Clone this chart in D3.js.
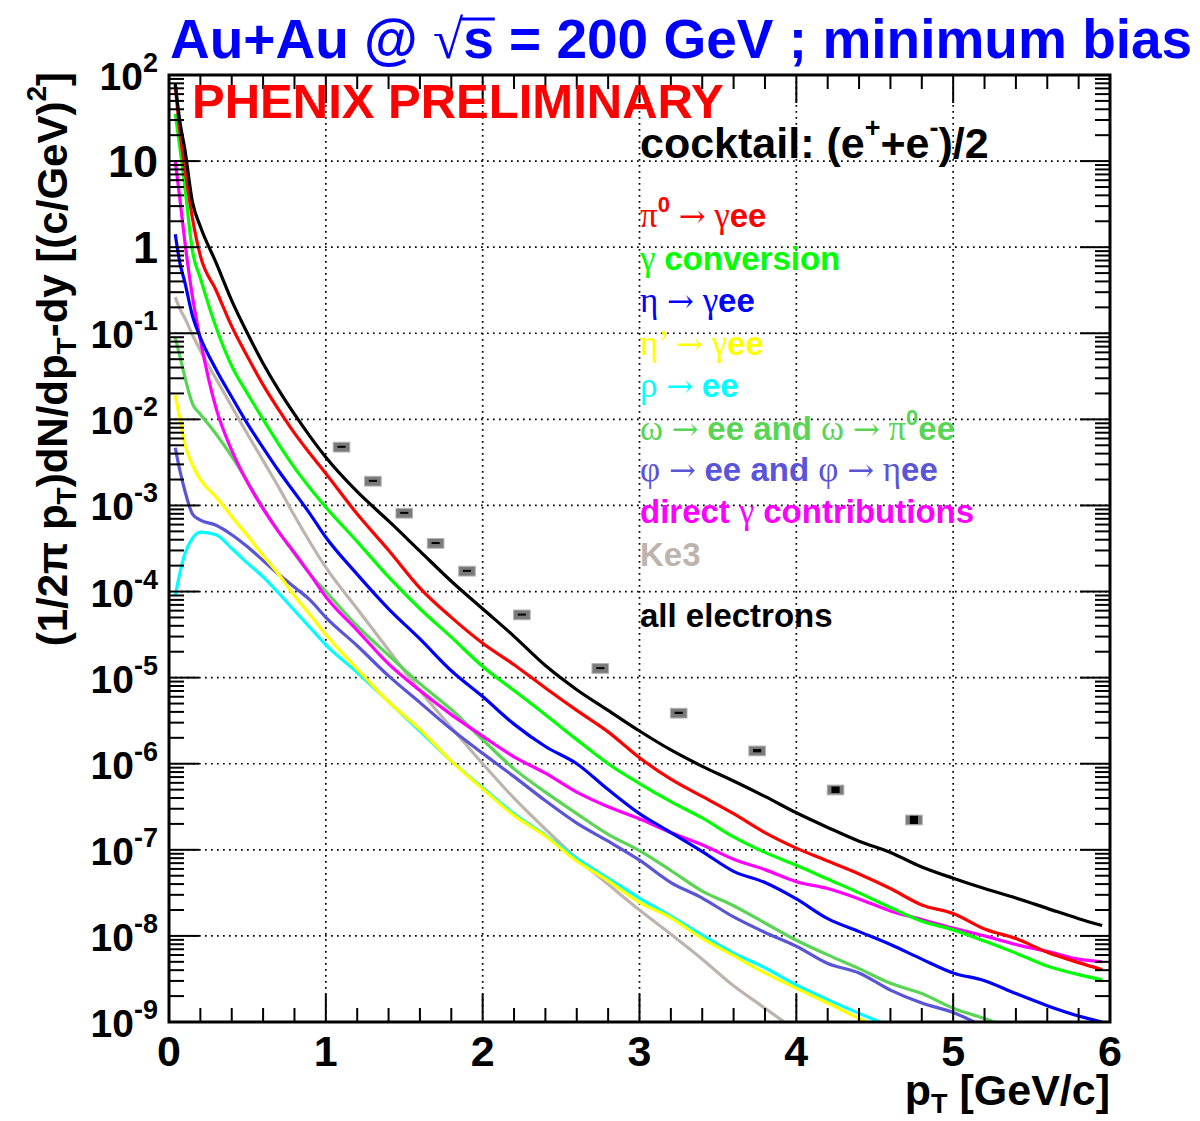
<!DOCTYPE html>
<html><head><meta charset="utf-8">
<script src="https://cdn.jsdelivr.net/npm/d3@7"></script>
<style>body{margin:0;background:#fff} svg{display:block}</style>
</head><body><svg id="c" width="1200" height="1121"></svg>
<script>
// ---------------- DATA (log10 of (1/2pi pT) dN/dpT dy) ----------------
const pT = [0.04,0.07,0.1,0.15,0.2,0.3,0.4,0.5,0.6,0.7,0.8,0.9,1.0,1.2,1.4,1.6,1.8,2.0,2.2,2.4,2.6,2.8,3.0,3.2,3.4,3.6,3.8,4.0,4.2,4.4,4.6,4.8,5.0,5.2,5.4,5.6,5.8,5.95];

const logAll    = [1.9,1.45,1.15,0.52,0.24,-0.18,-0.62,-1.0,-1.35,-1.66,-1.94,-2.2,-2.44,-2.84,-3.18,-3.53,-3.88,-4.2,-4.52,-4.86,-5.14,-5.38,-5.62,-5.84,-6.03,-6.2,-6.38,-6.57,-6.74,-6.9,-7.03,-7.2,-7.33,-7.45,-7.56,-7.68,-7.8,-7.88];
const logPi0    = [1.88,1.33,0.93,0.33,-0.1,-0.5,-0.92,-1.27,-1.6,-1.89,-2.16,-2.4,-2.63,-3.1,-3.52,-3.96,-4.3,-4.6,-4.85,-5.12,-5.38,-5.63,-5.93,-6.18,-6.38,-6.58,-6.8,-6.98,-7.13,-7.28,-7.45,-7.64,-7.74,-7.92,-8.03,-8.19,-8.31,-8.39];
const logConv   = [1.55,1.15,0.72,-0.05,-0.36,-0.93,-1.38,-1.7,-2.0,-2.29,-2.56,-2.8,-3.02,-3.42,-3.83,-4.2,-4.53,-4.87,-5.15,-5.43,-5.72,-6.0,-6.23,-6.44,-6.63,-6.85,-7.03,-7.18,-7.34,-7.5,-7.67,-7.83,-7.93,-8.06,-8.2,-8.35,-8.45,-8.51];
const logEta    = [0.15,-0.19,-0.4,-0.8,-1.05,-1.42,-1.74,-2.05,-2.33,-2.6,-2.85,-3.1,-3.37,-3.8,-4.2,-4.55,-4.92,-5.22,-5.54,-5.8,-6.0,-6.3,-6.58,-6.8,-7.02,-7.25,-7.38,-7.57,-7.8,-7.95,-8.1,-8.27,-8.43,-8.52,-8.67,-8.81,-8.93,-9.0];
const logEtaP   = [-1.72,-2.0,-2.28,-2.53,-2.7,-2.9,-3.13,-3.35,-3.58,-3.8,-4.05,-4.27,-4.5,-4.9,-5.28,-5.6,-5.97,-6.29,-6.6,-6.84,-7.13,-7.36,-7.61,-7.79,-8.03,-8.23,-8.43,-8.61,-8.78,-8.96,-9.12,null,null,null,null,null,null,null];
const logRho    = [-4.05,-3.78,-3.57,-3.38,-3.31,-3.34,-3.5,-3.67,-3.83,-4.02,-4.22,-4.42,-4.62,-4.94,-5.28,-5.62,-5.97,-6.28,-6.58,-6.83,-7.1,-7.33,-7.56,-7.77,-7.99,-8.2,-8.37,-8.57,-8.74,-8.9,-9.05,null,null,null,null,null,null,null];
const logOmega  = [-1.05,-1.27,-1.5,-1.82,-1.94,-2.17,-2.43,-2.72,-3.02,-3.3,-3.56,-3.8,-4.0,-4.4,-4.74,-5.07,-5.37,-5.72,-6.06,-6.33,-6.58,-6.82,-7.01,-7.24,-7.48,-7.65,-7.85,-8.05,-8.22,-8.38,-8.55,-8.67,-8.84,-8.96,-9.1,null,null,null];
const logPhi    = [-2.33,-2.6,-2.82,-3.1,-3.17,-3.23,-3.34,-3.48,-3.64,-3.8,-3.95,-4.1,-4.3,-4.63,-4.98,-5.29,-5.6,-5.88,-6.15,-6.43,-6.69,-6.9,-7.12,-7.38,-7.56,-7.78,-7.96,-8.12,-8.32,-8.43,-8.63,-8.78,-8.89,-9.06,null,null,null,null];
const logDirect = [1.0,0.55,0.08,-0.58,-1.08,-1.87,-2.36,-2.73,-3.04,-3.31,-3.55,-3.8,-4.06,-4.45,-4.84,-5.15,-5.43,-5.68,-5.92,-6.11,-6.33,-6.5,-6.64,-6.8,-6.94,-7.11,-7.23,-7.37,-7.45,-7.57,-7.71,-7.81,-7.91,-8.0,-8.1,-8.18,-8.27,-8.3];
const logKe3    = [-0.58,-0.72,-0.82,-1.02,-1.2,-1.53,-1.85,-2.17,-2.48,-2.79,-3.12,-3.43,-3.72,-4.2,-4.68,-5.15,-5.58,-6.0,-6.4,-6.76,-7.1,-7.4,-7.7,-7.98,-8.27,-8.58,-8.84,-9.1,null,null,null,null,null,null,null,null,null,null];

// PHENIX preliminary data points
const dataPt   = [1.1,1.3,1.5,1.7,1.9,2.25,2.75,3.25,3.75,4.25,4.75];
const dataY    = [4.8e-3,1.93e-3,8.2e-4,3.66e-4,1.74e-4,5.4e-5,1.29e-5,3.9e-6,1.42e-6,5.0e-7,2.24e-7];
const dataStat = [0.01,0.01,0.01,0.01,0.01,0.015,0.02,0.03,0.045,0.085,0.11];
const dataSys  = [0.13,0.13,0.13,0.13,0.13,0.13,0.13,0.13,0.13,0.13,0.13];

const xTickLabels = ["0","1","2","3","4","5","6"];
const yTickExp = [2,1,0,-1,-2,-3,-4,-5,-6,-7,-8,-9];

// series draw order (back to front)
const seriesNames  = ["Ke3","phi","omega","rho","etaP","direct","eta","conv","pi0","all"];
const seriesValues = [logKe3,logPhi,logOmega,logRho,logEtaP,logDirect,logEta,logConv,logPi0,logAll];
const seriesColors = ["#bdb5ad","#5954d8","#59d454","#00ffff","#ffff00","#ff00ff","#0000ff","#00ff00","#ff0000","#000000"];

// ---------------- DRAW ----------------
const SANS = "'Liberation Sans', Arial, Helvetica, sans-serif";
const SERIF = "'Liberation Serif', 'DejaVu Serif', 'Times New Roman', serif";
const ARROW = "'DejaVu Serif', 'Liberation Serif', serif";
const svg = d3.select('#c');
const x = d3.scaleLinear().domain([0,6]).range([169,1110]);
const y = d3.scaleLog().domain([1e-9,1e2]).range([1022,75]);
const [X0,X1] = x.range(); const [Y0,Y1] = y.range();

svg.append('rect').attr('width',1200).attr('height',1121).attr('fill','#fff');

// grid
const gridG = svg.append('g').attr('stroke','#000').attr('stroke-width',1.7).attr('stroke-dasharray','1.7,4.3');
[1,2,3,4,5].forEach(v=>gridG.append('line').attr('x1',x(v)).attr('x2',x(v)).attr('y1',Y1).attr('y2',Y0));
d3.range(-8,2).forEach(e=>gridG.append('line').attr('x1',X0).attr('x2',X1).attr('y1',y(Math.pow(10,e))).attr('y2',y(Math.pow(10,e))));

// clip
svg.append('clipPath').attr('id','clip').append('rect').attr('x',X0).attr('y',Y1).attr('width',X1-X0).attr('height',Y0-Y1);

// curves
const line = d3.line().defined(d=>d[1]!=null).x(d=>x(d[0])).y(d=>y(Math.pow(10,d[1]))).curve(d3.curveMonotoneX);
const curveG = svg.append('g').attr('clip-path','url(#clip)');
seriesValues.forEach((vals,i)=>{
  const pts = pT.map((p,j)=>[p,vals[j]]);
  curveG.append('path').attr('d',line(pts)).attr('fill','none').attr('stroke',seriesColors[i]).attr('stroke-width',3.2).attr('stroke-linejoin','round');
});

// data points: systematic boxes + stat bars
const ptG = svg.append('g');
dataPt.forEach((p,i)=>{
  const v = dataY[i];
  const yt = y(v*(1+dataSys[i])), yb = y(v*(1-dataSys[i]));
  ptG.append('rect').attr('x',x(p-0.053)).attr('width',x(p+0.053)-x(p-0.053)).attr('y',yt).attr('height',yb-yt)
     .attr('fill','#7a7a7a').attr('stroke','#b4b4b4').attr('stroke-width',1);
  const st = y(v*(1+dataStat[i])), sb = y(v*(1-dataStat[i]));
  const h = Math.max(2, sb-st);
  ptG.append('rect').attr('x',x(p-0.026)).attr('width',x(p+0.026)-x(p-0.026)).attr('y',(st+sb)/2-h/2).attr('height',h).attr('fill','#000');
});

// frame
const axG = svg.append('g').attr('stroke','#000');
axG.append('rect').attr('x',X0).attr('y',Y1).attr('width',X1-X0).attr('height',Y0-Y1).attr('fill','none').attr('stroke-width',3);
// x ticks
d3.range(0,30.5).forEach(k=>{
  const v = k*0.2; const major = k%5===0; const L = major?28:14;
  axG.append('line').attr('x1',x(v)).attr('x2',x(v)).attr('y1',Y0).attr('y2',Y0-L).attr('stroke-width',2);
  axG.append('line').attr('x1',x(v)).attr('x2',x(v)).attr('y1',Y1).attr('y2',Y1+L).attr('stroke-width',2);
});
// y ticks
d3.range(-9,2).forEach(e=>{
  for(let k=1;k<=9;k++){
    const v = k*Math.pow(10,e); const L = k===1?30:15;
    axG.append('line').attr('x1',X0).attr('x2',X0+L).attr('y1',y(v)).attr('y2',y(v)).attr('stroke-width',2);
    axG.append('line').attr('x1',X1).attr('x2',X1-L).attr('y1',y(v)).attr('y2',y(v)).attr('stroke-width',2);
  }
});

// x tick labels
xTickLabels.forEach((t,i)=>{
  svg.append('text').attr('x',x(i)).attr('y',1066).attr('text-anchor','middle')
    .attr('font-family',SANS).attr('font-weight','bold').attr('font-size',43).text(t);
});
// y tick labels
yTickExp.forEach(e=>{
  const yy = y(Math.pow(10,e));
  const t = svg.append('text').attr('x',158).attr('y',yy+15).attr('text-anchor','end')
    .attr('font-family',SANS).attr('font-weight','bold');
  if(e===0){ t.attr('font-size',45).attr('y',yy+16).text('1'); }
  else if(e===1){ t.attr('font-size',45).attr('y',yy+16).text('10'); }
  else {
    t.attr('font-size',39);
    t.append('tspan').text('10');
    t.append('tspan').attr('font-size',27).attr('dy',-18).text(e<0?('-'+(-e)):String(e));
  }
});

// axis titles
const xt = svg.append('text').attr('x',1110).attr('y',1105).attr('text-anchor','end')
  .attr('font-family',SANS).attr('font-weight','bold').attr('font-size',43);
xt.append('tspan').text('p');
xt.append('tspan').attr('font-size',27).attr('dy',8).text('T');
xt.append('tspan').attr('dy',-8).text(' [GeV/c]');

const yt = svg.append('text').attr('transform','translate(67,72) rotate(-90)').attr('text-anchor','end')
  .attr('font-family',SANS).attr('font-weight','bold').attr('font-size',42);
yt.append('tspan').text('(1/2π p');
yt.append('tspan').attr('font-size',28).attr('dy',9).text('T');
yt.append('tspan').attr('dy',-9).text(')dN/dp');
yt.append('tspan').attr('font-size',28).attr('dy',9).text('T');
yt.append('tspan').attr('dy',-9).text('-dy [(c/GeV)');
yt.append('tspan').attr('font-size',28).attr('dy',-21).text('2');
yt.append('tspan').attr('dy',21).text(']');

// title
const tt = svg.append('text').attr('x',170).attr('y',58).attr('font-family',SANS).attr('font-weight','bold')
  .attr('font-size',55).attr('fill','#0000ff');
tt.append('tspan').text('Au+Au @ ');
tt.append('tspan').attr('font-family',SERIF).attr('font-weight','normal').text('√');
tt.append('tspan').text('s = 200 GeV ; minimum bias');
{
  const n = tt.node();
  const x0 = n.getEndPositionOfChar(8).x - 2, x1 = n.getEndPositionOfChar(9).x + 1;
  svg.append('line').attr('x1',x0).attr('x2',x1).attr('y1',19).attr('y2',19).attr('stroke','#0000ff').attr('stroke-width',3);
}

svg.append('text').attr('x',192).attr('y',118).attr('font-family',SANS).attr('font-weight','bold')
  .attr('font-size',49).attr('fill','#ff0000').text('PHENIX PRELIMINARY');

// cocktail header
const ch = svg.append('text').attr('x',640).attr('y',158).attr('font-family',SANS).attr('font-weight','bold').attr('font-size',43);
ch.append('tspan').text('cocktail: (e');
ch.append('tspan').attr('font-size',27).attr('dy',-21).text('+');
ch.append('tspan').attr('dy',21).text('+e');
ch.append('tspan').attr('font-size',27).attr('dy',-21).text('-');
ch.append('tspan').attr('dy',21).text(')/2');

// legend rows: [text, kind]  kind: g=greek serif, a=arrow, b=bold sans, s=superscript bold
const legendRows = [
  {c:'#ff0000', parts:[['π','g'],['0','s'],[' ','g'],['→','a'],[' γ','g'],['ee','b']]},
  {c:'#00ff00', parts:[['γ ','g'],['conversion','b']]},
  {c:'#0000ff', parts:[['η ','g'],['→','a'],[' γ','g'],['ee','b']]},
  {c:'#ffff00', parts:[['η’ ','g'],['→','a'],[' γ','g'],['ee','b']]},
  {c:'#00ffff', parts:[['ρ ','g'],['→','a'],[' ','g'],['ee','b']]},
  {c:'#59d454', parts:[['ω ','g'],['→','a'],[' ','g'],['ee and ','b'],['ω ','g'],['→','a'],[' π','g'],['0','s'],['ee','b']]},
  {c:'#5954d8', parts:[['φ ','g'],['→','a'],[' ','g'],['ee and ','b'],['φ ','g'],['→','a'],[' η','g'],['ee','b']]},
  {c:'#ff00ff', parts:[['direct ','b'],['γ ','g'],['contributions','b']]},
  {c:'#bdb5ad', parts:[['Ke3','b']]},
  {c:'#000000', parts:[['all electrons','b']]}
];
const legendY = [227,270,312,355,397,440,481,523,566,627];
legendRows.forEach((r,i)=>{
  const t = svg.append('text').attr('x',640).attr('y',legendY[i]).attr('fill',r.c).attr('font-size',33);
  let up = false;
  r.parts.forEach(([s,k])=>{
    const sp = t.append('tspan').text(s);
    if(k==='g'){ sp.attr('font-family',SERIF).attr('font-weight','normal').attr('font-size',35); }
    else if(k==='a'){ sp.attr('font-family',ARROW).attr('font-weight','normal').attr('font-size',32); }
    else { sp.attr('font-family',SANS).attr('font-weight','bold'); }
    if(k==='s'){ sp.attr('font-size',22).attr('dy',-15); up=true; }
    else if(up){ sp.attr('dy',15); up=false; }
  });
});
</script></body></html>
